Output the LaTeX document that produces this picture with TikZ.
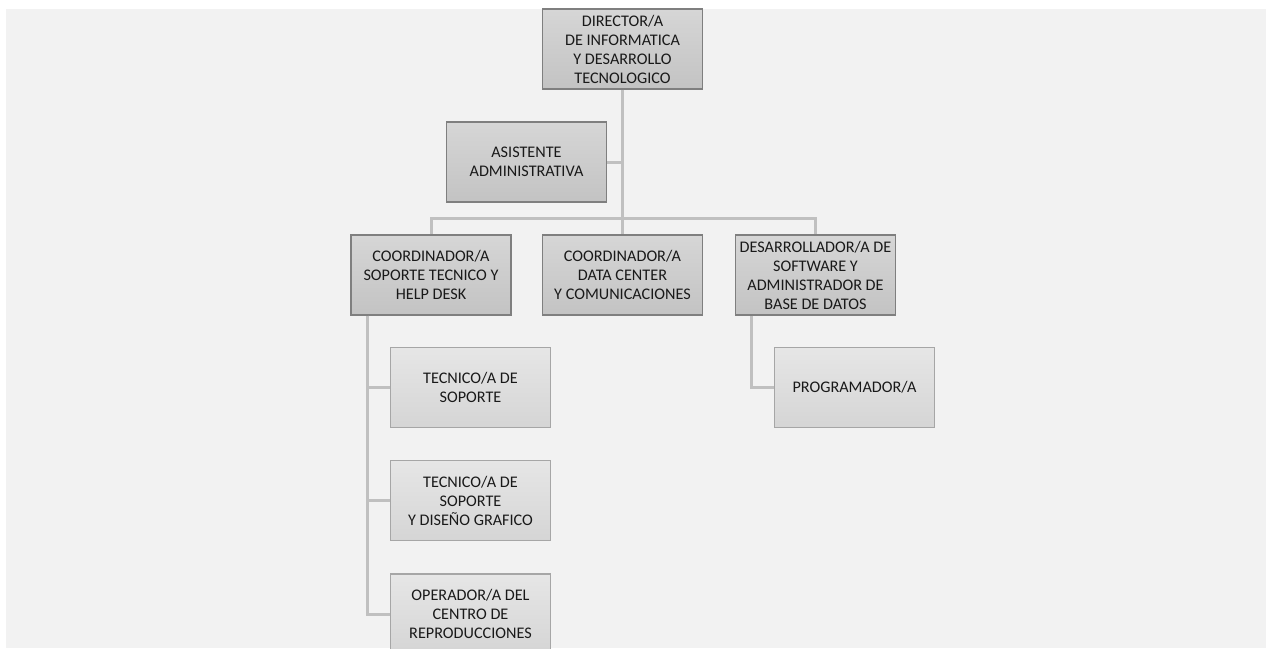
\documentclass[tikz,border=0pt]{standalone}
\usepackage{fontspec}
\setmainfont{Carlito}
\begin{document}
\begin{tikzpicture}[x=1pt,y=-1pt,
  box/.style={rectangle, minimum width=160pt, minimum height=80pt, inner sep=1pt,
    align=center, font=\fontsize{16.2}{19}\selectfont, text=black!90},
  upper/.style={box, draw=boxline, line width=1.3pt, top color=upT, bottom color=upB},
  lower/.style={box, draw=boxlineL, line width=1.3pt, top color=loT, bottom color=loB},
  conn/.style={draw=connc, line width=3pt}]
\definecolor{bgc}{HTML}{F2F2F2}
\definecolor{boxline}{HTML}{7F7F7F}
\definecolor{boxlineL}{HTML}{A6A6A6}
\definecolor{upT}{HTML}{D6D6D6}
\definecolor{upB}{HTML}{C3C3C3}
\definecolor{loT}{HTML}{E6E6E6}
\definecolor{loB}{HTML}{D5D5D5}
\definecolor{connc}{HTML}{C0C0C0}
\useasboundingbox (0,0) rectangle (1266,648);
\clip (0,0) rectangle (1266,648);
\fill[bgc] (6,9) rectangle (1266,648);

\node[upper] (dir) at (622.5,49) {DIRECTOR/A\\DE INFORMATICA\\Y DESARROLLO\\TECNOLOGICO};
\node[upper] (asis) at (526.5,162) {ASISTENTE\\ADMINISTRATIVA};
\node[upper] (c1) at (431,275) {COORDINADOR/A\\SOPORTE TECNICO Y\\HELP DESK};
\node[upper] (c2) at (622.5,275) {COORDINADOR/A\\DATA CENTER\\Y COMUNICACIONES};
\node[upper] (dev) at (815.5,275) {DESARROLLADOR/A DE\\SOFTWARE Y\\ADMINISTRADOR DE\\BASE DE DATOS};
\node[lower] (prog) at (854.5,387.5) {PROGRAMADOR/A};
\node[lower] (t1) at (470.5,387.5) {TECNICO/A DE\\SOPORTE};
\node[lower] (t2) at (470.5,500.5) {TECNICO/A DE\\SOPORTE\\Y DISEÑO GRAFICO};
\node[lower] (op) at (470.5,614) {OPERADOR/A DEL\\CENTRO DE\\REPRODUCCIONES};

\coordinate (bus) at (622.5,218);
\draw[conn] (dir.south) -- (c2.north);
\draw[conn] (c1.north) |- (bus) -| (dev.north);
\draw[conn] (asis.east) -- (asis.east -| dir.south);
\draw[conn] ([xshift=-64pt]c1.south) |- (t1.west);
\draw[conn] ([xshift=-64pt]c1.south) |- (t2.west);
\draw[conn] ([xshift=-64pt]c1.south) |- (op.west);
\draw[conn] ([xshift=-64pt]dev.south) |- (prog.west);
\end{tikzpicture}
\end{document}
